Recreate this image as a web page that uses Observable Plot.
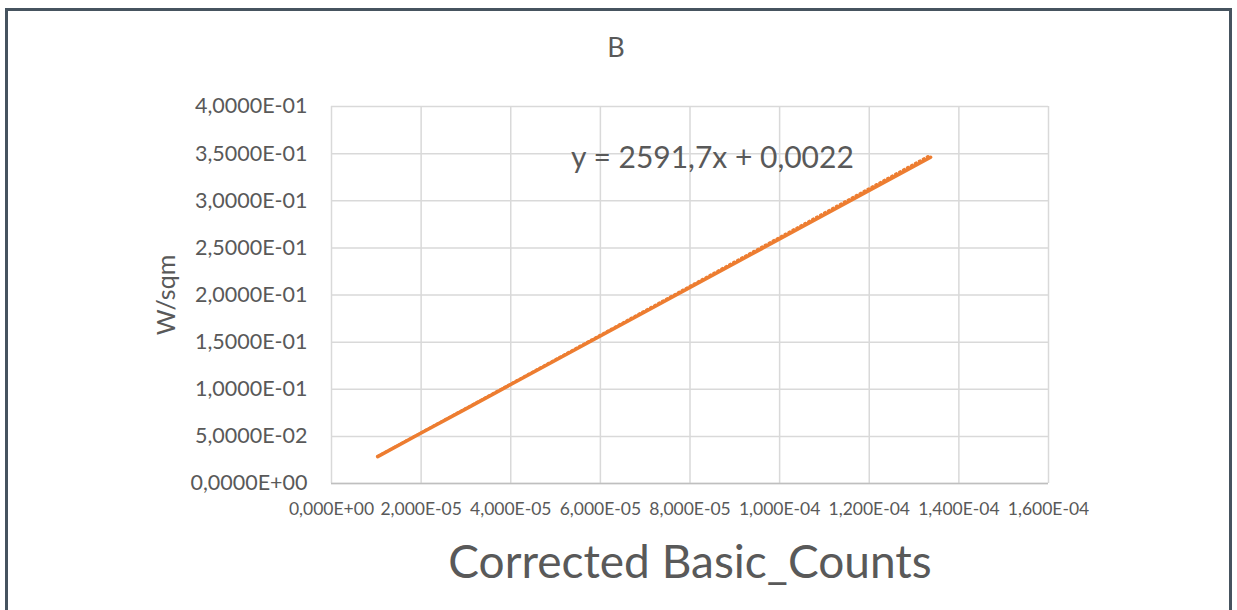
<!DOCTYPE html>
<html>
<head>
<meta charset="utf-8">
<script src="https://cdn.jsdelivr.net/npm/d3@7"></script>
<script src="https://cdn.jsdelivr.net/npm/@observablehq/plot@0.6"></script>
<style>
  html, body { margin: 0; padding: 0; background: #fff; overflow: hidden; }
  #wrap { position: relative; width: 1237px; height: 610px; }
  #frame { position: absolute; left: 5px; top: 8px; width: 1221px; height: 640px; border: 3px solid #46535f; box-sizing: content-box; pointer-events: none; }
  #chart { position: absolute; left: 0; top: 0; }
</style>
</head>
<body>
<div id="wrap"><div id="chart"></div><div id="frame"></div></div>
<script>
// Data
const countsX = [1.03e-5, 2.0e-5, 3.0e-5, 4.0e-5, 5.0e-5, 6.0e-5, 7.0e-5, 8.0e-5, 9.0e-5, 1.0e-4, 1.1e-4, 1.2e-4, 1.3e-4, 1.337e-4];
const wsqmY   = [0.0285, 0.0535, 0.0792, 0.1050, 0.1307, 0.1565, 0.1822, 0.2080, 0.2337, 0.2595, 0.2852, 0.3110, 0.3367, 0.3462];
const trendX = [1.03e-5, 1.337e-4];
const trendY = [0.0289, 0.3487];
const xTicks = [0, 2e-5, 4e-5, 6e-5, 8e-5, 1e-4, 1.2e-4, 1.4e-4, 1.6e-4];
const yTicks = [0, 0.05, 0.10, 0.15, 0.20, 0.25, 0.30, 0.35, 0.40];
const title = "B";
const xLabel = "Corrected Basic_Counts";
const yLabel = "W/sqm";
const equation = "y = 2591,7x + 0,0022";
const equationPos = [8.5e-5, 0.3445];

function sci(v, d) {
  if (Math.abs(v) < 1e-15) return "0," + "0".repeat(d) + "E+00";
  const s = v.toExponential(d);
  const [m, e] = s.split("e");
  const n = parseInt(e, 10);
  return m.replace(".", ",") + "E" + (n < 0 ? "-" : "+") + String(Math.abs(n)).padStart(2, "0");
}

const pts = countsX.map((x, i) => ({x, y: wsqmY[i]}));
const trend = trendX.map((x, i) => ({x, y: trendY[i]}));
const font = "Lato, 'Open Sans', sans-serif";
const grey = "#595959";

const chart = Plot.plot({
  width: 1237,
  height: 610,
  marginLeft: 331,
  marginRight: 189,
  marginTop: 106,
  marginBottom: 127,
  style: {fontFamily: font, color: grey, background: "transparent"},
  x: {domain: [0, 1.6e-4], ticks: xTicks},
  y: {domain: [0, 0.4], ticks: yTicks},
  marks: [
    Plot.gridX(xTicks, {stroke: "#d9d9d9", strokeOpacity: 1, strokeWidth: 1.5}),
    Plot.gridY(yTicks, {stroke: "#d9d9d9", strokeOpacity: 1, strokeWidth: 1.5}),
    Plot.ruleY([0], {stroke: "#bfbfbf", strokeWidth: 1.5}),
    Plot.axisY(yTicks, {tickSize: 0, tickPadding: 24, tickFormat: d => sci(d, 4), fontSize: 21.5, label: null, fill: grey}),
    Plot.axisX(xTicks, {tickSize: 0, tickPadding: 19, tickFormat: d => sci(d, 3), fontSize: 17.5, label: null, fill: grey}),
    Plot.line(pts, {x: "x", y: "y", stroke: "#ED7D31", strokeWidth: 3.5, strokeLinecap: "round"}),
    Plot.line(trend, {x: "x", y: "y", stroke: "#ED7D31", strokeWidth: 2.5, strokeDasharray: "1.5 3"}),
    Plot.text([equation], {x: () => equationPos[0], y: () => equationPos[1], fontSize: 30, fill: grey}),
    Plot.text([title], {frameAnchor: "top", textAnchor: "middle", lineAnchor: "middle", dx: -74, dy: -58, fontSize: 27, fill: grey}),
    Plot.text([yLabel], {frameAnchor: "left", textAnchor: "middle", lineAnchor: "middle", dx: -165, rotate: -90, fontSize: 25, fill: grey}),
    Plot.text([xLabel], {frameAnchor: "bottom", textAnchor: "middle", lineAnchor: "middle", dy: 80, fontSize: 46, fill: grey})
  ]
});
document.getElementById("chart").appendChild(chart);
</script>
</body>
</html>
